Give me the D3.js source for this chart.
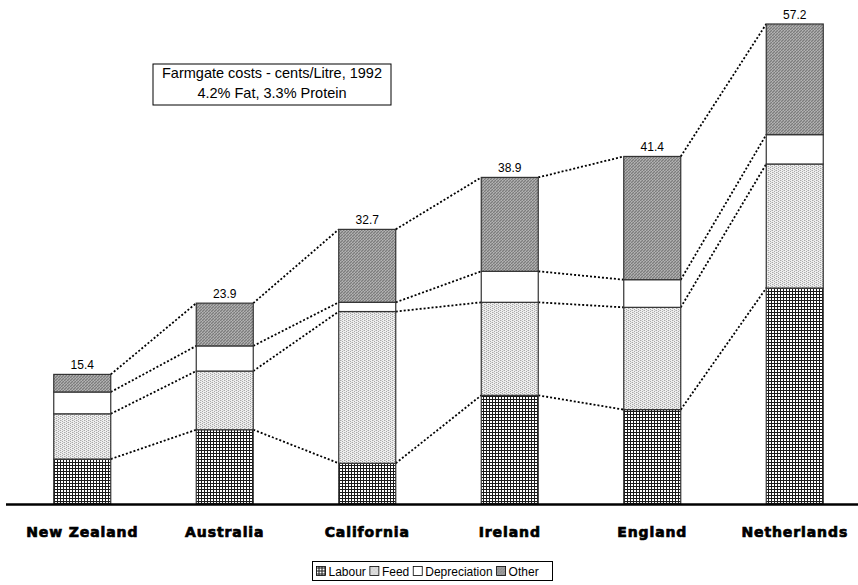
<!DOCTYPE html>
<html>
<head>
<meta charset="utf-8">
<script src="https://cdn.jsdelivr.net/npm/d3@7/dist/d3.min.js"></script>
<style>
  html, body { margin: 0; padding: 0; background: #fff; }
  svg { display: block; }
  text { font-family: "Liberation Sans", Arial, sans-serif; fill: #000; }
</style>
</head>
<body>
<svg id="chart" width="858" height="585"></svg>
<script>
// Farmgate milk production costs, cents per litre, 1992
const countries = ["New Zealand", "Australia", "California", "Ireland", "England", "Netherlands"];
const series = ["Labour", "Feed", "Depreciation", "Other"];
const labour       = [5.3, 8.8, 4.8, 12.9, 11.2, 25.7];
const feed         = [5.4, 7.0, 18.1, 11.1, 12.2, 14.8];
const depreciation = [2.6, 3.0, 1.1, 3.7, 3.3, 3.5];
const other        = [2.1, 5.1, 8.7, 11.2, 14.7, 13.2];
const totals       = [15.4, 23.9, 32.7, 38.9, 41.4, 57.2];
const titleLines   = ["Farmgate costs - cents/Litre, 1992", "4.2% Fat, 3.3% Protein"];

const rows = countries.map((c, i) => ({
  country: c,
  Labour: labour[i],
  Feed: feed[i],
  Depreciation: depreciation[i],
  Other: other[i],
  total: totals[i]
}));

const svg = d3.select("#chart");
const baseY = 503.5;

const x = d3.scaleBand()
  .domain(countries)
  .range([11, 866])
  .paddingInner(0.6)
  .paddingOuter(0.3);

const y = d3.scaleLinear()
  .domain([0, 57.2])
  .range([baseY, 24]);

// Fill patterns for each cost component
const defs = svg.append("defs");

const pLab = defs.append("pattern").attr("id", "pat-Labour")
  .attr("width", 3).attr("height", 3).attr("patternUnits", "userSpaceOnUse");
pLab.append("rect").attr("width", 3).attr("height", 3).attr("fill", "#fff");
pLab.append("rect").attr("width", 3).attr("height", 1).attr("fill", "#1a1a1a");
pLab.append("rect").attr("width", 1).attr("height", 3).attr("fill", "#1a1a1a");

const pFeed = defs.append("pattern").attr("id", "pat-Feed")
  .attr("width", 4).attr("height", 4).attr("patternUnits", "userSpaceOnUse");
pFeed.append("rect").attr("width", 4).attr("height", 4).attr("fill", "#eeeeee");
[[0, 0], [2, 1], [0, 2], [2, 3]].forEach(([px, py]) =>
  pFeed.append("rect").attr("x", px).attr("y", py).attr("width", 1).attr("height", 1).attr("fill", "#a8a8a8"));
[[1, 0], [3, 2]].forEach(([px, py]) =>
  pFeed.append("rect").attr("x", px).attr("y", py).attr("width", 1).attr("height", 1).attr("fill", "#cfcfcf"));

const pDep = defs.append("pattern").attr("id", "pat-Depreciation")
  .attr("width", 4).attr("height", 4).attr("patternUnits", "userSpaceOnUse");
pDep.append("rect").attr("width", 4).attr("height", 4).attr("fill", "#fff");

const pOth = defs.append("pattern").attr("id", "pat-Other")
  .attr("width", 3).attr("height", 3).attr("patternUnits", "userSpaceOnUse");
pOth.append("rect").attr("width", 3).attr("height", 3).attr("fill", "#9c9c9c");
[[0, 0], [2, 1], [1, 2]].forEach(([px, py]) =>
  pOth.append("rect").attr("x", px).attr("y", py).attr("width", 1).attr("height", 1).attr("fill", "#7c7c7c"));
[[1, 0], [0, 2]].forEach(([px, py]) =>
  pOth.append("rect").attr("x", px).attr("y", py).attr("width", 1).attr("height", 1).attr("fill", "#b4b4b4"));

const stacked = d3.stack().keys(series)(rows);

// Dotted connectors between matching segment tops of neighbouring bars
const connectors = svg.append("g").attr("class", "connectors");
stacked.forEach(layer => {
  for (let i = 0; i < layer.length - 1; i++) {
    const a = layer[i], b = layer[i + 1];
    connectors.append("line")
      .attr("x1", x(countries[i]) + x.bandwidth())
      .attr("y1", y(a[1]))
      .attr("x2", x(countries[i + 1]))
      .attr("y2", y(b[1]))
      .attr("stroke", "#000")
      .attr("stroke-width", 1.8)
      .attr("stroke-dasharray", "2,2");
  }
});

// Stacked bars
const layers = svg.append("g").attr("class", "bars")
  .selectAll("g").data(stacked).join("g")
  .attr("fill", d => `url(#pat-${d.key})`);

layers.selectAll("rect").data(d => d).join("rect")
  .attr("x", d => x(d.data.country))
  .attr("y", d => y(d[1]))
  .attr("width", x.bandwidth())
  .attr("height", d => y(d[0]) - y(d[1]))
  .attr("stroke", "#333")
  .attr("stroke-width", 1.2);

// Total labels above the bars
svg.append("g").selectAll("text").data(rows).join("text")
  .attr("x", d => x(d.country) + x.bandwidth() / 2)
  .attr("y", d => y(d.total) - 5)
  .attr("text-anchor", "middle")
  .attr("font-size", 12)
  .text(d => d.total.toFixed(1));

// Baseline
svg.append("line")
  .attr("x1", 6).attr("x2", 858)
  .attr("y1", baseY + 1).attr("y2", baseY + 1)
  .attr("stroke", "#000").attr("stroke-width", 2.5);

// Category labels
const xAxis = d3.axisBottom(x).tickSize(0).tickPadding(0);
const axisG = svg.append("g").attr("transform", `translate(0,${baseY + 24})`).call(xAxis);
axisG.select(".domain").remove();
axisG.selectAll("text")
  .attr("dy", "0.71em")
  .style("font-family", "'DejaVu Sans', sans-serif")
  .style("font-weight", "bold")
  .style("font-size", "14px")
  .style("letter-spacing", "0.9px")
  .style("stroke", "#000")
  .style("stroke-width", "0.7px")
  .style("fill", "#000");

// Title box
const tb = svg.append("g").attr("transform", "translate(153,64)");
tb.append("rect").attr("width", 238).attr("height", 41)
  .attr("fill", "#fff").attr("stroke", "#000").attr("stroke-width", 1);
tb.selectAll("text").data(titleLines).join("text")
  .attr("x", 119)
  .attr("y", (d, i) => 14 + i * 20)
  .attr("text-anchor", "middle")
  .attr("font-size", 14.5)
  .text(d => d);

// Legend
const lg = svg.append("g").attr("transform", "translate(312.5,561.5)");
lg.append("rect").attr("width", 240).attr("height", 19)
  .attr("fill", "#fff").attr("stroke", "#000").attr("stroke-width", 1);
let lx = 4;
series.forEach(s => {
  lg.append("rect").attr("x", lx).attr("y", 5).attr("width", 9).attr("height", 9)
    .attr("fill", `url(#pat-${s})`).attr("stroke", "#000").attr("stroke-width", 0.8);
  const t = lg.append("text").attr("x", lx + 12).attr("y", 14)
    .attr("font-size", 12).text(s);
  lx += 12 + t.node().getComputedTextLength() + 4;
});
</script>
</body>
</html>
